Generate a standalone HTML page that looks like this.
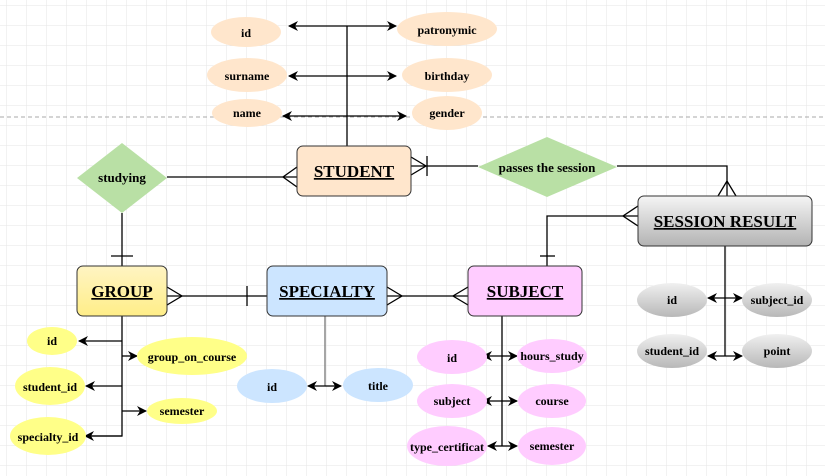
<!DOCTYPE html>
<html><head><meta charset="utf-8"><style>
html,body{margin:0;padding:0;background:#fff}
svg{display:block}
text{font-family:"Liberation Serif",serif;font-weight:bold;fill:#000}
</style></head><body>
<svg width="825" height="476" viewBox="0 0 825 476" xmlns="http://www.w3.org/2000/svg">
<defs>
<pattern id="g" width="20" height="20" patternUnits="userSpaceOnUse" x="7" y="6">
<path d="M20 0V20M0 20H20" fill="none" stroke="#e6e6e6" stroke-width="1"/>
</pattern>
<marker id="a" markerWidth="10" markerHeight="10" refX="9" refY="5" orient="auto" markerUnits="userSpaceOnUse">
<path d="M0,0 L10,5 L0,10 L3,5z" fill="#000"/>
</marker>
<linearGradient id="gy" x1="0" y1="0" x2="0" y2="1"><stop offset="0" stop-color="#f5f5f5"/><stop offset="1" stop-color="#b3b3b3"/></linearGradient>
<linearGradient id="gy2" x1="0" y1="0" x2="0" y2="1"><stop offset="0" stop-color="#f0f0f0"/><stop offset="1" stop-color="#b8b8b8"/></linearGradient>
<linearGradient id="yl" x1="0" y1="0" x2="0" y2="1"><stop offset="0" stop-color="#fff4c3"/><stop offset="1" stop-color="#ffee88"/></linearGradient>
</defs>
<rect width="825" height="476" fill="url(#g)"/>
<line x1="0" y1="117" x2="825" y2="117" stroke="#aaa" stroke-dasharray="4,3"/>

<g stroke="#000" stroke-width="1.3" fill="none">
<!-- student attrs -->
<line x1="347" y1="26" x2="347" y2="146"/>
<line x1="347" y1="26" x2="289" y2="26" marker-end="url(#a)"/>
<line x1="347" y1="26" x2="396" y2="26" marker-end="url(#a)"/>
<line x1="347" y1="76" x2="289" y2="76" marker-end="url(#a)"/>
<line x1="347" y1="76" x2="396" y2="76" marker-end="url(#a)"/>
<line x1="347" y1="116" x2="283" y2="116" marker-end="url(#a)"/>
<line x1="347" y1="116" x2="406" y2="116" marker-end="url(#a)"/>
<!-- studying -->
<line x1="167" y1="177" x2="297" y2="177"/>
<path d="M297 167 L283 177 L297 187"/>
<line x1="122" y1="213" x2="122" y2="266"/>
<line x1="111" y1="256" x2="133" y2="256"/>
<!-- passes -->
<line x1="411" y1="166" x2="478" y2="166"/>
<path d="M411 157 L426 166 L411 175"/>
<line x1="427" y1="156" x2="427" y2="176"/>
<path d="M617 166 H727 V196"/>
<path d="M718 196 L727 181 L736 196"/>
<!-- session-subject -->
<path d="M638 216 H547 V266"/>
<path d="M638 206 L623 216 L638 226"/>
<line x1="540" y1="256" x2="555" y2="256"/>
<!-- group-specialty-subject -->
<line x1="167" y1="296" x2="267" y2="296"/>
<path d="M167 287 L182 296 L167 305"/>
<line x1="247" y1="286" x2="247" y2="306"/>
<line x1="387" y1="296" x2="468" y2="296"/>
<path d="M387 287 L402 296 L387 305"/>
<path d="M468 287 L453 296 L468 305"/>
<!-- group attrs -->
<path d="M122 316 V436 H86"/>
<line x1="122" y1="341" x2="79" y2="341" marker-end="url(#a)"/>
<line x1="122" y1="356" x2="137" y2="356" marker-end="url(#a)"/>
<line x1="122" y1="386" x2="86" y2="386" marker-end="url(#a)"/>
<line x1="122" y1="411" x2="146" y2="411" marker-end="url(#a)"/>
<line x1="122" y1="436" x2="85" y2="436" marker-end="url(#a)"/>
<!-- specialty attrs -->
<line x1="325" y1="316" x2="325" y2="386" stroke="#777"/>
<line x1="325" y1="386" x2="308" y2="386" marker-end="url(#a)"/>
<line x1="325" y1="386" x2="341" y2="386" marker-end="url(#a)"/>
<!-- subject attrs -->
<line x1="502" y1="316" x2="502" y2="446"/>
<line x1="502" y1="356" x2="483" y2="356" marker-end="url(#a)"/>
<line x1="502" y1="356" x2="517" y2="356" marker-end="url(#a)"/>
<line x1="502" y1="401" x2="483" y2="401" marker-end="url(#a)"/>
<line x1="502" y1="401" x2="517" y2="401" marker-end="url(#a)"/>
<line x1="502" y1="446" x2="488" y2="446" marker-end="url(#a)"/>
<line x1="502" y1="446" x2="517" y2="446" marker-end="url(#a)"/>
<!-- session attrs -->
<line x1="725" y1="246" x2="725" y2="356"/>
<line x1="725" y1="298" x2="708" y2="298" marker-end="url(#a)"/>
<line x1="725" y1="298" x2="742" y2="298" marker-end="url(#a)"/>
<line x1="725" y1="356" x2="708" y2="356" marker-end="url(#a)"/>
<line x1="725" y1="356" x2="742" y2="356" marker-end="url(#a)"/>
</g>

<!-- diamonds -->
<polygon points="122,143 167,178 122,213 77,178" fill="#b9e0a5"/>
<polygon points="547,137 617,167 547,197 478,167" fill="#b9e0a5"/>
<text x="122" y="182" font-size="13" text-anchor="middle">studying</text>
<text x="547" y="172" font-size="13" text-anchor="middle">passes the session</text>

<!-- entities -->
<g stroke="#333" stroke-width="1">
<rect x="297" y="146" width="114" height="50" rx="6" fill="#ffe6cc"/>
<rect x="638" y="196" width="174" height="50" rx="6" fill="url(#gy)"/>
<rect x="77" y="266" width="90" height="50" rx="6" fill="url(#yl)"/>
<rect x="267" y="266" width="120" height="50" rx="6" fill="#cce5ff"/>
<rect x="468" y="266" width="114" height="50" rx="6" fill="#ffccff"/>
</g>
<g font-size="17" text-anchor="middle" text-decoration="underline">
<text x="354" y="177">STUDENT</text>
<text x="725" y="227">SESSION RESULT</text>
<text x="122" y="297">GROUP</text>
<text x="327" y="297">SPECIALTY</text>
<text x="525" y="297">SUBJECT</text>
</g>

<!-- attribute ellipses -->
<g fill="#ffe6cc">
<ellipse cx="246" cy="32" rx="35" ry="15"/>
<ellipse cx="447" cy="29" rx="50" ry="17"/>
<ellipse cx="247" cy="75" rx="40" ry="17"/>
<ellipse cx="447" cy="75" rx="45" ry="17"/>
<ellipse cx="247" cy="113" rx="35" ry="14"/>
<ellipse cx="447" cy="113" rx="35" ry="17"/>
</g>
<g fill="#ffff88">
<ellipse cx="52" cy="341" rx="25" ry="14"/>
<ellipse cx="192" cy="356" rx="55" ry="19"/>
<ellipse cx="50" cy="386" rx="35" ry="19"/>
<ellipse cx="182" cy="411" rx="35" ry="13"/>
<ellipse cx="48" cy="436" rx="38" ry="19"/>
</g>
<g fill="#cce5ff">
<ellipse cx="272" cy="386" rx="35" ry="17"/>
<ellipse cx="378" cy="385" rx="35" ry="17"/>
</g>
<g fill="#ffccff">
<ellipse cx="452" cy="357" rx="35" ry="17"/>
<ellipse cx="552" cy="356" rx="35" ry="17"/>
<ellipse cx="452" cy="401" rx="35" ry="17"/>
<ellipse cx="552" cy="401" rx="34" ry="17"/>
<ellipse cx="447" cy="446" rx="40" ry="20"/>
<ellipse cx="552" cy="446" rx="34" ry="19"/>
</g>
<g fill="url(#gy2)">
<ellipse cx="672" cy="300" rx="35" ry="17"/>
<ellipse cx="777" cy="300" rx="35" ry="17"/>
<ellipse cx="672" cy="351" rx="35" ry="17"/>
<ellipse cx="777" cy="351" rx="35" ry="17"/>
</g>

<g font-size="12" text-anchor="middle">
<text x="246" y="37">id</text>
<text x="447" y="34">patronymic</text>
<text x="247" y="80">surname</text>
<text x="447" y="80">birthday</text>
<text x="247" y="117">name</text>
<text x="447" y="117">gender</text>
<text x="52" y="345">id</text>
<text x="192" y="361">group_on_course</text>
<text x="50" y="391">student_id</text>
<text x="182" y="415">semester</text>
<text x="48" y="441">specialty_id</text>
<text x="272" y="391">id</text>
<text x="378" y="390">title</text>
<text x="452" y="362">id</text>
<text x="552" y="360">hours_study</text>
<text x="452" y="405">subject</text>
<text x="552" y="405">course</text>
<text x="447" y="451">type_certificat</text>
<text x="552" y="450">semester</text>
<text x="672" y="304">id</text>
<text x="777" y="304">subject_id</text>
<text x="672" y="355">student_id</text>
<text x="777" y="355">point</text>
</g>
</svg>
</body></html>
